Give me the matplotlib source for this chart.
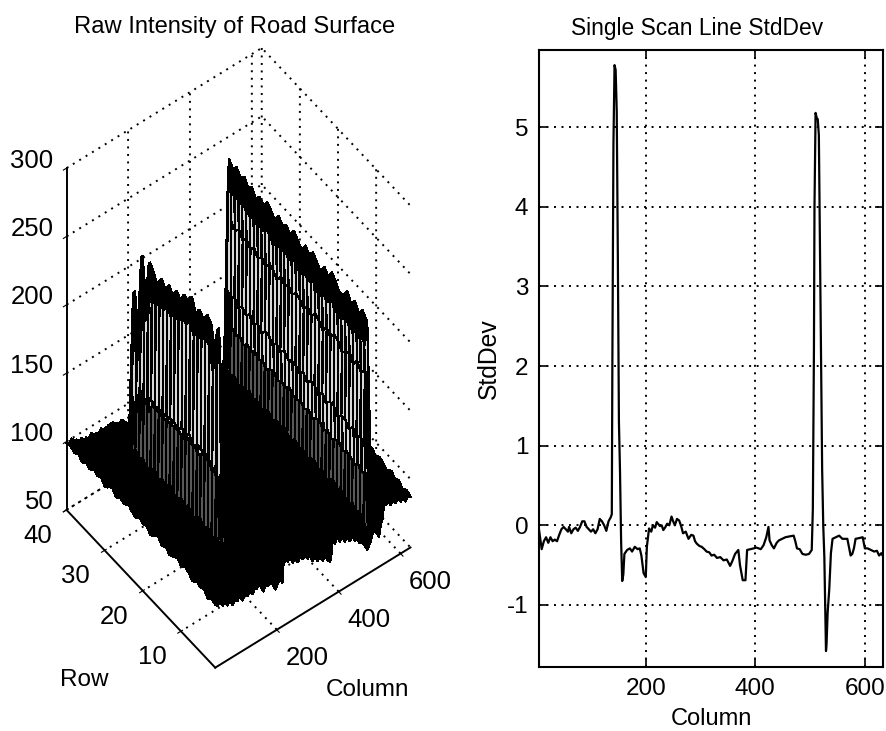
import numpy as np
import matplotlib
matplotlib.use("Agg")
import matplotlib.pyplot as plt
from mpl_toolkits.mplot3d import Axes3D, proj3d  # noqa: F401

plt.rcParams['font.family'] = ['Liberation Sans', 'DejaVu Sans']
plt.rcParams['grid.linestyle'] = (0, (1, 2.86))
plt.rcParams['grid.color'] = 'black'
plt.rcParams['grid.linewidth'] = 1.4
plt.rcParams['axes.unicode_minus'] = False

W, H = 887, 731

# surface: road level along the columns, read from the near edge
surf_cols = [1, 9, 17, 25, 33, 41, 49, 57, 65, 73, 81, 89, 97, 105, 113, 121, 129, 134, 137, 139,
             141, 144, 148, 152, 155, 157, 160, 164, 172, 180, 188, 196, 204, 212, 218, 220, 228,
             236, 244, 252, 260, 268, 276, 284, 292, 300, 308, 316, 324, 332, 340, 348, 356, 364,
             372, 376, 380, 388, 396, 404, 412, 420, 428, 436, 444, 452, 460, 468, 476, 484, 492,
             498, 502, 505, 507, 510, 514, 518, 521, 523, 526, 530, 536, 542, 546, 552, 560, 568,
             576, 584, 592, 600, 608, 616, 624, 632]
road_level = [96, 94, 97, 92, 94, 90, 93, 88, 91, 89, 92, 87, 90, 88, 91, 87, 90, 89, 90, 90,
              90, 90, 90, 90, 88, 84, 86, 88, 86, 88, 85, 80, 84, 86, 82, 94, 97,
              95, 98, 92, 96, 90, 93, 90, 92, 88, 90, 84, 87, 82, 85, 80, 83, 78,
              76, 80, 90, 87, 91, 86, 89, 84, 87, 82, 85, 80, 83, 76, 79, 72, 68,
              70, 72, 74, 76, 78, 78, 78, 78, 78, 78, 72, 80, 84, 94, 92, 95, 90,
              93, 89, 92, 88, 91, 86, 89, 87]
surf_rows = list(range(1, 41))
row_shift = [0, 2, -1, 3, 1, 4, 0, 3, 5, 2, 6, 3, 1, 5, 2, 6, 4, 1, 5, 3,
             6, 2, 4, 7, 3, 5, 2, 6, 4, 1, 5, 3, 6, 2, 4, 1, 5, 2, 4, 3]
# stripe tops per row (0 where the stripe is absent)
right_ridge = [0, 0, 227, 231, 226, 232, 227, 233, 228, 226, 231, 235, 229, 233, 227, 231, 235, 230, 234, 228,
               232, 236, 230, 234, 231, 235, 229, 233, 236, 231, 234, 230, 235, 232, 237, 233, 238, 234, 238, 0]
left_ridge = [0, 0, 0, 0, 0, 0, 0, 0, 0, 0, 0, 245, 225, 243, 246, 240, 244, 238, 247, 240,
              243, 236, 240, 233, 238, 232, 237, 228, 235, 240, 205, 239, 165, 207, 0, 0, 0, 0, 0, 0]
left_stripe_cols = [139, 141, 144, 148, 152, 155]
left_stripe_frac = [0.35, 0.9, 1.0, 1.0, 0.9, 0.3]
right_stripe_cols = [505, 507, 510, 514, 518, 521, 523]
right_stripe_frac = [0.05, 0.4, 0.88, 1.0, 0.95, 0.7, 0.2]

# single scan line
line_col = [1, 3, 5, 8, 10, 14, 18, 22, 26, 30, 34, 38, 42, 46, 50, 54, 58, 60, 64, 68, 72, 76, 80, 84, 88,
            92, 96, 100, 104, 108, 112, 116, 120, 124, 128, 132, 136, 138, 139, 141, 143, 145, 147, 149, 151, 153,
            155, 157, 159, 161, 166, 171, 175, 180, 185, 189, 192, 196, 200, 202, 206, 210, 213, 217, 220, 226,
            229, 232, 236, 239, 243, 247, 250, 253, 257, 261, 265, 268, 273, 278, 283, 287, 290, 293, 298, 302,
            307, 311, 316, 320, 325, 330, 336, 342, 348, 354, 358, 363, 369, 372, 377, 382, 385, 391, 397, 402,
            406, 410, 415, 420, 424, 426, 430, 434, 439, 443, 449, 455, 462, 470, 473, 476, 481, 486, 492, 498,
            503, 505, 507, 508, 510, 512, 514, 516, 518, 520, 522, 524, 526, 529, 530, 532, 535, 538, 541, 547,
            553, 559, 568, 574, 577, 580, 583, 590, 596, 600, 605, 611, 617, 622, 626, 630, 634]
line_std = [0.08, 0.03, -0.05, -0.2, -0.3, -0.2, -0.15, -0.22, -0.15, -0.2, -0.18, -0.2, -0.12, -0.05, -0.02,
            -0.05, -0.08, -0.02, -0.1, -0.05, -0.03, -0.07, -0.02, 0.05, 0.05, -0.02, -0.05, -0.08, -0.05, -0.1,
            -0.05, 0.08, 0.05, 0.0, -0.07, 0.05, 0.1, 0.14, 2.0, 4.8, 5.78, 5.72, 5.2, 3.4, 1.3, 0.67,
            -0.2, -0.7, -0.62, -0.36, -0.31, -0.29, -0.33, -0.27, -0.3, -0.29, -0.38, -0.6, -0.65, -0.27, -0.04,
            -0.08, 0.0, -0.03, 0.04, -0.01, 0.0, -0.06, -0.02, 0.02, 0.0, 0.11, 0.05, 0.0, 0.08, 0.06, -0.02,
            -0.1, -0.08, -0.17, -0.12, -0.13, -0.2, -0.23, -0.26, -0.27, -0.3, -0.33, -0.34, -0.38, -0.37, -0.41,
            -0.4, -0.44, -0.43, -0.51, -0.45, -0.36, -0.31, -0.5, -0.69, -0.69, -0.31, -0.3, -0.29, -0.28, -0.29,
            -0.3, -0.25, -0.15, -0.02, -0.19, -0.25, -0.29, -0.22, -0.19, -0.17, -0.15, -0.14, -0.13, -0.2, -0.29,
            -0.3, -0.36, -0.37, -0.36, -0.31, 0.2, 2.2, 4.0, 5.18, 5.12, 5.1, 4.9, 3.5, 2.0, 0.7, 0.0, -0.4,
            -1.58, -1.5, -1.1, -0.8, -0.35, -0.17, -0.15, -0.13, -0.17, -0.17, -0.38, -0.36, -0.29, -0.17, -0.16,
            -0.15, -0.29, -0.29, -0.31, -0.33, -0.32, -0.38, -0.35, -0.4]

scan_xticks = [200, 400, 600]
scan_yticks = [-1, 0, 1, 2, 3, 4, 5]
surf_zticks = [50, 100, 150, 200, 250, 300]
surf_rowticks = [10, 20, 30, 40]

fig = plt.figure(figsize=(W / 100, H / 100), dpi=100, facecolor='white')

# left: mesh surface, axes square is bigger than the plot so nothing gets clipped
ax = fig.add_axes([-110.7 / W, 1 - 707 / H, 680 / W, 680 / H], projection='3d', proj_type='ortho')
ax.patch.set_alpha(0)
ax.view_init(elev=53.9, azim=232.7)
ax.set_box_aspect((245, 245, 579), zoom=0.965)

Z = np.array([[road_level[c] + row_shift[r] for c in range(len(surf_cols))] for r in range(len(surf_rows))], dtype=float)
for cols, fracs, ridge in [(left_stripe_cols, left_stripe_frac, left_ridge),
                           (right_stripe_cols, right_stripe_frac, right_ridge)]:
    for col, frac in zip(cols, fracs):
        c = surf_cols.index(col)
        for r, top in enumerate(ridge):
            if top > 0:
                Z[r, c] += frac * (top - Z[r, c])

X, Y = np.meshgrid(surf_cols, surf_rows)
faces = np.ones(Z.shape + (4,))
for r in range(Z.shape[0] - 1):
    for c in range(Z.shape[1] - 1):
        cell = Z[r:r + 2, c:c + 2]
        if cell.max() < 125 or cell.min() > 190:
            faces[r, c, :3] = 0.0
        elif cell.max() < 170:
            faces[r, c, :3] = 0.35
        else:
            faces[r, c, :3] = 0.85
ax.plot_surface(X, Y, Z, rstride=1, cstride=1, facecolors=faces, edgecolor='black',
                linewidth=1.0, shade=False, antialiased=False)

ax.set_xlim(1, 632)
ax.set_ylim(1, 40)
ax.set_zlim(50, 300)
ax.set_xticks(scan_xticks)
ax.set_yticks(surf_rowticks)
ax.set_zticks(surf_zticks)
ax.set_xticklabels([])
ax.set_yticklabels([])
ax.set_zticklabels([])
for axis in (ax.xaxis, ax.yaxis, ax.zaxis):
    axis.set_pane_color((1, 1, 1, 0))
    axis.pane.set_edgecolor('none')
    axis.line.set_color('black')
    axis.line.set_linewidth(1.4)

# mplot3d resets tick label transforms at draw time, so label the ticks with annotations
def tick_label(value, x, y, z, dx, dy, ha='center'):
    px, py, _ = proj3d.proj_transform(x, y, z, ax.get_proj())
    ax.annotate(str(value), xy=(px, py), xytext=(dx, dy), textcoords='offset pixels',
                ha=ha, va='center', fontsize=18.5, annotation_clip=False)

for col in scan_xticks:
    tick_label(col, col, 1, 50, 30, -28)
for row in surf_rowticks:
    tick_label(row, 1, row, 50, -29, -26)
for level in surf_zticks:
    tick_label(level, 1, 40, level, -13, 7.5, ha='right')

fig.text(235 / W, 1 - 27 / H, 'Raw Intensity of Road Surface', ha='center', va='center', fontsize=17.1)
fig.text(84 / W, 1 - 680 / H, 'Row', ha='center', va='center', fontsize=17.5)
fig.text(368 / W, 1 - 690 / H, 'Column', ha='center', va='center', fontsize=17.5)

# right: scan line
ax2 = fig.add_axes([539.5 / W, 1 - 667 / H, (883.5 - 539.5) / W, (667 - 50) / H])
ax2.plot(line_col, line_std, color='black', linewidth=1.6)
ax2.set_xlim(6, 634)
ax2.set_ylim(-1.78, 5.97)
ax2.set_xticks(scan_xticks)
ax2.set_yticks(scan_yticks)
ax2.tick_params(direction='in', top=True, right=True, labelsize=17.5, length=6, width=1.2, pad=8)
ax2.grid(True)
ax2.set_axisbelow(True)
for spine in ax2.spines.values():
    spine.set_linewidth(1.5)
ax2.set_title('Single Scan Line StdDev', fontsize=16.4, pad=11, x=0.458)
ax2.set_xlabel('Column', fontsize=17, labelpad=6)
ax2.set_ylabel('StdDev', fontsize=17.8, labelpad=4)

fig.savefig('out.png', dpi=100)
